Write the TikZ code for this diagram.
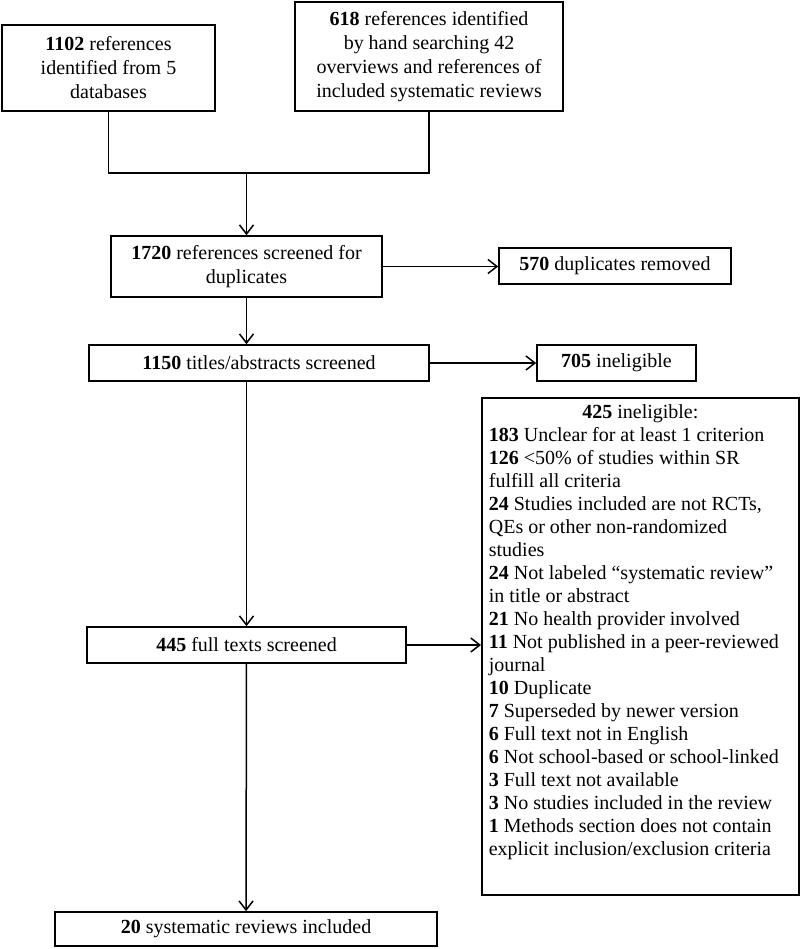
\documentclass[tikz,border=0pt]{standalone}
\usepackage{fontspec}
\setmainfont{Liberation Serif}
\usetikzlibrary{arrows.meta}
\begin{document}
\begin{tikzpicture}[x=1pt,y=-1pt]
		\tikzset{box/.style = {draw, line width=1.7pt, align=center, inner sep=0pt, font=\fontsize{20}{24}\selectfont}}
		\tikzset{edge/.style = {-{Straight Barb[length=9pt,width=14pt]}, line width=1.5pt}}
		\tikzset{link/.style = {line width=1.5pt}}
		\useasboundingbox (0,0) rectangle (800,949);
		
		\node[box, minimum width=213pt, minimum height=86pt]  (db)      at (108.5,  68) {\textbf{1102} references\\identified from 5\\databases};
		\node[box, minimum width=268pt, minimum height=109pt] (hand)    at (  429,56.5) {\textbf{618} references identified\\by hand searching 42\\overviews and references of\\included systematic reviews};
		\node[box, minimum width=271pt, minimum height=61pt]  (dup)     at (246.5,266.5) {\textbf{1720} references screened for\\duplicates};
		\node[box, minimum width=232pt, minimum height=36pt]  (dupout)  at (  615, 266) {\textbf{570} duplicates removed};
		\node[box, minimum width=340pt, minimum height=36pt]  (title)   at (  259, 363) {\textbf{1150} titles/abstracts screened};
		\node[box, minimum width=159pt, minimum height=36pt]  (titleout) at (616.5, 363) {\textbf{705} ineligible};
		\node[box, minimum width=319pt, minimum height=36pt]  (full)    at (246.5, 645) {\textbf{445} full texts screened};
		\node[box, minimum width=382pt, minimum height=34pt]  (incl)    at (  246, 929) {\textbf{20} systematic reviews included};
		\node[box, anchor=north west, minimum width=317pt, minimum height=497pt, inner xsep=7pt, inner ysep=7pt, align=left, font=\fontsize{20}{23}\selectfont] (fullout) at (481,397) {\parbox[t][483pt][t]{303pt}{\centering\textbf{425} ineligible:\par\raggedright
			\textbf{183} Unclear for at least 1 criterion\\
			\textbf{126} <50\% of studies within SR\\fulfill all criteria\\
			\textbf{24} Studies included are not RCTs,\\QEs or other non-randomized\\studies\\
			\textbf{24} Not labeled “systematic review”\\in title or abstract\\
			\textbf{21} No health provider involved\\
			\textbf{11} Not published in a peer-reviewed\\journal\\
			\textbf{10} Duplicate\\
			\textbf{7} Superseded by newer version\\
			\textbf{6} Full text not in English\\
			\textbf{6} Not school-based or school-linked\\
			\textbf{3} Full text not available\\
			\textbf{3} No studies included in the review\\
			\textbf{1} Methods section does not contain\\explicit inclusion/exclusion criteria}};
		
		\coordinate (join) at (246.5,173);
		
		\draw[link] (db) -- (db.south |- join) -- (hand.south |- join) -- (hand);
		\draw[edge] (join) to (dup);
		\draw[edge] (dup.east) to (dup.east -| dupout.west);
		\draw[edge] (dup.south) to (dup.south |- title.north);
		\draw[edge] (title.east) to (title.east -| titleout.west);
		\draw[edge] (title.south -| full.north) to (full);
		\draw[edge] (full.east) to (full.east -| fullout.west);
		\draw[edge] (full) to (incl);
		\end{tikzpicture}
\end{document}
